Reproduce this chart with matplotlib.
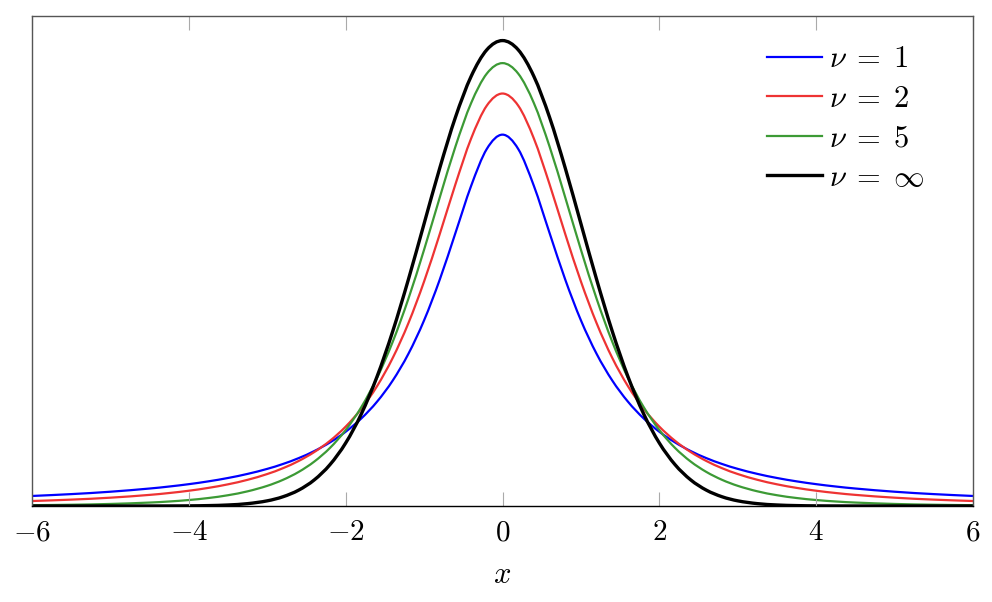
import matplotlib

matplotlib.use("Agg")
import matplotlib.pyplot as plt
from matplotlib.lines import Line2D
from matplotlib.patches import PathPatch
from matplotlib.path import Path

plt.rcParams["mathtext.fontset"] = "cm"
plt.rcParams["font.family"] = ["DejaVu Serif"]

# x positions where the densities were read (|x| only, mirrored below)
x_half = [0.0, 0.2, 0.4, 0.6, 0.8, 1.0, 1.2, 1.4, 1.6, 1.8, 2.0, 2.2, 2.4,
          2.6, 2.8, 3.0, 3.25, 3.5, 3.75, 4.0, 4.25, 4.5, 5.0, 5.5, 6.0]

# density values at x_half
nu1 = [0.31831, 0.30607, 0.27441, 0.23405, 0.19409, 0.15915, 0.13045, 0.10754,
       0.08941, 0.07507, 0.06366, 0.05451, 0.04709, 0.04102, 0.03601, 0.03183,
       0.02753, 0.02402, 0.02113, 0.01872, 0.01670, 0.01498, 0.01224, 0.01019,
       0.00860]
nu2 = [0.35355, 0.34321, 0.31501, 0.27582, 0.23313, 0.19245, 0.15673, 0.12690,
       0.10270, 0.08337, 0.06804, 0.05590, 0.04626, 0.03857, 0.03240, 0.02741,
       0.02246, 0.01859, 0.01553, 0.01309, 0.01113, 0.00953, 0.00713, 0.00546,
       0.00427]
nu5 = [0.37961, 0.37064, 0.34538, 0.30814, 0.26449, 0.21968, 0.17766, 0.14074,
       0.10982, 0.08481, 0.06509, 0.04980, 0.03809, 0.02918, 0.02242, 0.01729,
       0.01259, 0.00924, 0.00685, 0.00512, 0.00387, 0.00295, 0.00176, 0.00108,
       0.00069]
nu_inf = [0.39894, 0.39104, 0.36827, 0.33322, 0.28969, 0.24197, 0.19419, 0.14973,
          0.11092, 0.07895, 0.05399, 0.03547, 0.02239, 0.01358, 0.00792, 0.00443,
          0.00203, 0.00087, 0.00035, 0.00013, 0.00005, 0.00002, 0.0, 0.0, 0.0]

labels = [r"$\nu\;=\;1$", r"$\nu\;=\;2$", r"$\nu\;=\;5$", r"$\nu\;=\;\infty$"]
colors = ["#0000ff", "#ee3333", "#3c9a35", "#000000"]
widths = [1.6, 1.6, 1.6, 2.4]
xticks = [-6, -4, -2, 0, 2, 4, 6]


def mirror(vals):
    return vals[:0:-1] + vals


def smooth_path(xs, ys):
    # smooth line through the read points: cubic Hermite segments as Beziers
    n = len(xs)
    slopes = []
    for i in range(n):
        a, b = max(i - 1, 0), min(i + 1, n - 1)
        slopes.append((ys[b] - ys[a]) / (xs[b] - xs[a]))
    verts = [(xs[0], ys[0])]
    codes = [Path.MOVETO]
    for i in range(n - 1):
        h = (xs[i + 1] - xs[i]) / 3
        verts += [(xs[i] + h, ys[i] + slopes[i] * h),
                  (xs[i + 1] - h, ys[i + 1] - slopes[i + 1] * h),
                  (xs[i + 1], ys[i + 1])]
        codes += [Path.CURVE4] * 3
    return Path(verts, codes)


xs = [-v for v in x_half[:0:-1]] + x_half

fig = plt.figure(figsize=(9.92, 6.02), dpi=100)
ax = fig.add_axes([32 / 992, 96 / 602, 941 / 992, 490 / 602])

handles = []
for ys, lab, c, lw in zip([nu1, nu2, nu5, nu_inf], labels, colors, widths):
    ax.add_patch(PathPatch(smooth_path(xs, mirror(ys)), facecolor="none",
                           edgecolor=c, lw=lw, capstyle="butt"))
    handles.append(Line2D([], [], color=c, lw=lw, label=lab))

ax.set_xlim(-6, 6)
ax.set_ylim(0, 0.42)
ax.set_xticks(xticks)
ax.set_xticklabels([rf"${t}$" if t >= 0 else rf"$-{-t}$" for t in xticks])
ax.set_yticks([])
ax.tick_params(axis="x", direction="in", length=10, width=0.8, color="#aaaaaa",
               top=True, labelsize=21, pad=9)
for side in ["left", "top", "right"]:
    ax.spines[side].set_color("#555555")
    ax.spines[side].set_linewidth(1.0)
ax.spines["bottom"].set_color("black")
ax.spines["bottom"].set_linewidth(1.0)

ax.set_xlabel(r"$x$", fontsize=22, labelpad=9)

ax.legend(handles=handles, loc="upper left", bbox_to_anchor=(0.768, 0.969),
          frameon=False, fontsize=22, handlelength=1.8, handletextpad=0.22,
          labelspacing=0.28, borderaxespad=0.0)

fig.savefig("out.png", dpi=100)
